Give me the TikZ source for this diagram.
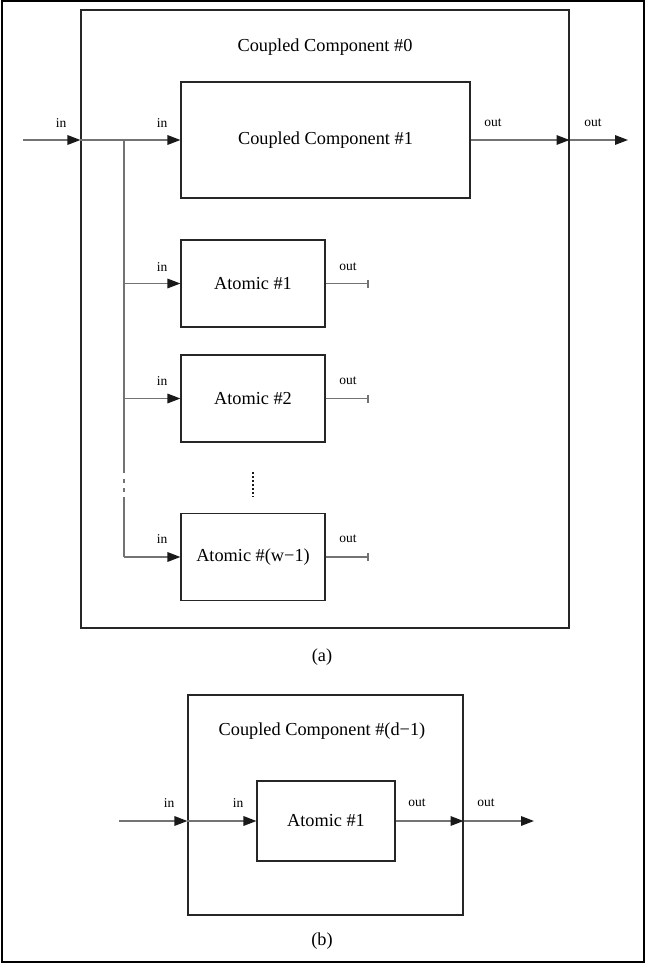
\documentclass[tikz,border=0pt]{standalone}
\usepackage{fontspec}
\setmainfont{Liberation Serif}
\usetikzlibrary{arrows.meta}
\tikzset{
  box/.style={draw=black!85, line width=1.1pt, inner sep=0pt, font=\fontsize{18.3}{21}\selectfont},
  conn/.style={draw=black!55, line width=1.6pt},
  arr/.style={conn, -{Triangle[length=13pt,width=9.5pt,fill=black!90,color=black!90]}},
  stub/.style={conn, -{Bar[width=8pt,line width=1.2pt]}},
  port/.style={font=\fontsize{13.5}{15}\selectfont, inner sep=0pt},
  ttl/.style={font=\fontsize{18.3}{21}\selectfont, inner sep=0pt},
}
\begin{document}
\begin{tikzpicture}[x=1pt,y=-1pt]
\useasboundingbox (0,0) rectangle (645,963);
\draw[line width=2pt] (1.5,1.5) rectangle (643.5,961.5);
% (a)
\node[box, minimum width=488, minimum height=618] (cc0) at (325,319) {};
\node[ttl] (t0) at (325,47) {Coupled Component \#0};
\node[box, minimum width=289, minimum height=116] (cc1) at (325.5,140) {Coupled Component \#1};
\node[box, minimum width=144, minimum height=87] (a1) at (253,283.5) {Atomic \#1};
\node[box, minimum width=144, minimum height=87] (a2) at (253,398.5) {Atomic \#2};
\node[box, minimum width=144, minimum height=87] (aw) at (253,557) {Atomic \#(w−1)};
\coordinate (src) at (23,140);
\coordinate (dst) at (628,140);
\coordinate (br) at (124,140);
\draw[arr] (src) -- (src -| cc0.west);
\draw[arr] (src -| cc0.west) -- (cc1.west);
\draw[arr] (cc1.east) -- (cc1.east -| cc0.east);
\draw[arr] (cc1.east -| cc0.east) -- (dst);
\draw[conn] (br) -- (124,473);
\draw[conn] (124,479) -- (124,483);
\draw[conn] (124,488) -- (124,492);
\draw[conn] (124,497) -- (br |- aw.west);
\draw[arr] (br |- a1.west) -- (a1.west);
\draw[arr] (br |- a2.west) -- (a2.west);
\draw[arr] (br |- aw.west) -- (aw.west);
\draw[stub] (a1.east) -- ++(43,0);
\draw[stub] (a2.east) -- ++(43,0);
\draw[stub] (aw.east) -- ++(43,0);
\draw[black!90, line width=2.2pt, dash pattern=on 2pt off 2pt] (253,472) -- (253,497);
\node[port] (i0) at (61,123) {in};
\node[port] (i1) at (162,123) {in};
\node[port] (o1) at (493,123) {out};
\node[port] (o0) at (593,123) {out};
\node[port] (ia1) at (162,267) {in};
\node[port] (oa1) at (348,267) {out};
\node[port] (ia2) at (162,381) {in};
\node[port] (oa2) at (348,381) {out};
\node[port] (iaw) at (162,539) {in};
\node[port] (oaw) at (348,539) {out};
\node[ttl] (la) at (322,657) {(a)};
% (b)
\node[box, minimum width=275, minimum height=220] (cd) at (325.5,805) {};
\node[ttl] (td) at (322,731) {Coupled Component \#(d−1)};
\node[box, minimum width=138, minimum height=80] (ab) at (326,821) {Atomic \#1};
\coordinate (srcb) at (119,821);
\coordinate (dstb) at (534,821);
\draw[arr] (srcb) -- (srcb -| cd.west);
\draw[arr] (srcb -| cd.west) -- (ab.west);
\draw[arr] (ab.east) -- (ab.east -| cd.east);
\draw[arr] (ab.east -| cd.east) -- (dstb);
\node[port] (ib0) at (169,803) {in};
\node[port] (ib1) at (238,803) {in};
\node[port] (ob1) at (417,803) {out};
\node[port] (ob0) at (486,803) {out};
\node[ttl] (lb) at (322,941) {(b)};
\end{tikzpicture}
\end{document}
